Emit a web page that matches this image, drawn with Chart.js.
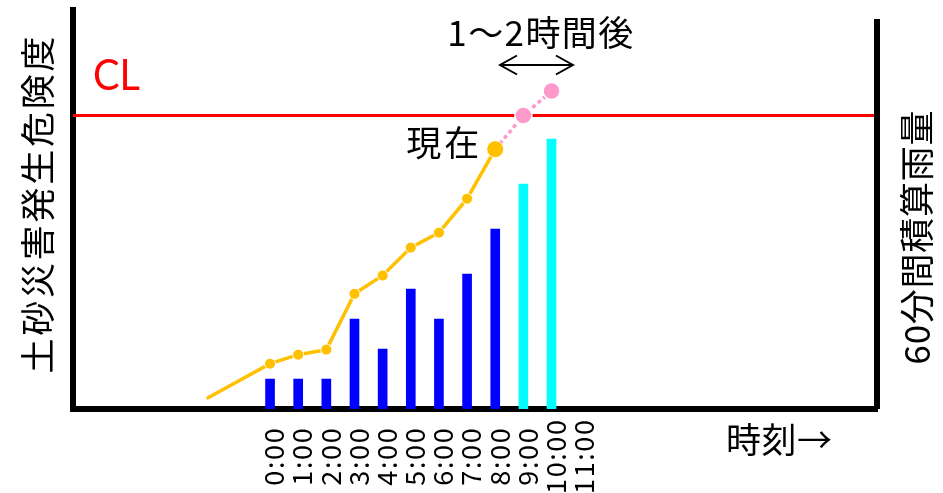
<!DOCTYPE html>
<html><head><meta charset="utf-8">
<script src="https://cdn.jsdelivr.net/npm/chart.js@4/dist/chart.umd.min.js"></script>
<style>html,body{margin:0;padding:0;background:#fff;overflow:hidden}#wrap{width:943px;height:493px}</style>
</head><body><div id="wrap"><canvas id="c" width="943" height="493"></canvas></div>
<script>
// ---- data ----
const timeLabels = ['0:00','1:00','2:00','3:00','4:00','5:00','6:00','7:00','8:00','9:00','10:00','11:00'];
const rainHours = [0,1,2,3,4,5,6,7,8,9,10];
const rainValues = [1,1,1,3,2,4,3,4.5,6,7.5,9];
const observedCount = 9; // first 9 bars observed, the rest forecast
const riskHours = [-2.25,0,1,2,3,4,5,6,7,8];
const riskValues = [0.35,1.51,1.81,1.98,3.84,4.45,5.38,5.88,7.01,8.66];
const forecastHours = [8,9,10];
const forecastValues = [8.66,9.78,10.6];
const clValue = 9.78;
const leftTitle = '土砂災害発生危険度';
const rightTitle = '60分間積算雨量';
const xTitle = '時刻→';
const nowLabel = '現在';
const leadLabel = '1〜2時間後';
const clLabel = 'CL';
const arrowFrom = 8.17, arrowTo = 10.76;

const X_MIN = -7, X_MAX = 21.58, Y_MAX = 13.3;
const JP = '"Noto Sans CJK JP", "Noto Sans", sans-serif';

// draw text centred at (cx, cy), character by character, with optional total length or extra gap
function spreadText(ctx, text, cx, cy, o) {
  const chars = Array.from(text);
  const ws = chars.map(c => ctx.measureText(c).width);
  const nat = ws.reduce((s, w) => s + w, 0);
  const n = chars.length;
  const gap = (o.target != null && n > 1) ? (o.target - nat) / (n - 1) : (o.gap || 0);
  const total = nat + gap * (n - 1);
  ctx.save();
  ctx.translate(cx, cy);
  if (o.rot) ctx.rotate(o.rot);
  ctx.textAlign = 'left';
  ctx.textBaseline = 'middle';
  let x = -total / 2;
  chars.forEach((c, i) => { ctx.fillText(c, x, 0); x += ws[i] + gap; });
  ctx.restore();
}
// draw text centred at (cx, cy), squeezed horizontally to a given width
function fitText(ctx, text, cx, cy, width) {
  const w = ctx.measureText(text).width;
  ctx.save();
  ctx.translate(cx, cy);
  ctx.scale(width / w, 1);
  ctx.textAlign = 'center';
  ctx.textBaseline = 'middle';
  ctx.fillText(text, 0, 0);
  ctx.restore();
}

const decor = {
  id: 'decor',
  afterDraw(chart) {
    const {ctx, chartArea: a, scales} = chart;
    const px = v => scales.x.getPixelForValue(v);
    const py = v => scales.y.getPixelForValue(v);
    const UP = -Math.PI / 2;
    ctx.save();
    // right axis line (starts a bit lower than the left one)
    ctx.fillStyle = '#000';
    ctx.fillRect(a.right - 3.5, a.top + 9, 6, a.bottom - a.top - 9);
    // bottom-left corner fill
    ctx.fillRect(a.left - 3, a.bottom, 6, 3);

    ctx.fillStyle = '#000';
    // tick labels (rotated, centred)
    ctx.font = '27px ' + JP;
    timeLabels.forEach((t, i) => {
      spreadText(ctx, t, px(i) + 4, a.bottom + 48, {gap: 1.6, rot: UP});
    });
    ctx.font = '35px ' + JP;
    spreadText(ctx, xTitle, a.right - 98.5, a.bottom + 31, {target: 106});
    spreadText(ctx, leftTitle, a.left - 35.5, 205, {target: 337, rot: UP});
    spreadText(ctx, rightTitle, a.right + 39.5, 237.5, {target: 254, rot: UP});
    const last = riskValues.length - 1;
    spreadText(ctx, nowLabel, px(riskHours[last]) - 52.5, py(riskValues[last]) - 6.5, {target: 73});
    spreadText(ctx, leadLabel, px(9.6), a.top + 23, {target: 186});
    // arrow
    const ay = a.top + 55, x1 = px(arrowFrom), x2 = px(arrowTo);
    ctx.strokeStyle = '#000';
    ctx.lineWidth = 2;
    ctx.beginPath();
    ctx.moveTo(x1, ay); ctx.lineTo(x2, ay);
    ctx.moveTo(x1 + 17, ay - 9.5); ctx.lineTo(x1, ay); ctx.lineTo(x1 + 17, ay + 9.5);
    ctx.moveTo(x2 - 17, ay - 9.5); ctx.lineTo(x2, ay); ctx.lineTo(x2 - 17, ay + 9.5);
    ctx.stroke();
    // CL
    ctx.fillStyle = '#FF0000';
    ctx.font = '43px Lato, "Open Sans", sans-serif';
    fitText(ctx, clLabel, a.left + 43.5, py(clValue) - 39.5, 47);
    ctx.restore();
  }
};

new Chart(document.getElementById('c'), {
  type: 'bar',
  data: {
    datasets: [
      {
        type: 'line', label: 'risk', yAxisID: 'y', order: 0,
        data: riskHours.map((x, i) => ({x, y: riskValues[i]})),
        borderColor: '#FFC000', borderWidth: 3.5,
        pointRadius: c => c.dataIndex === 0 ? 0 : (c.dataIndex === riskHours.length - 1 ? 8.5 : 5.5),
        pointBackgroundColor: '#FFC000', pointBorderColor: '#FFFFFF', pointBorderWidth: 1,
        tension: 0
      },
      {
        type: 'line', label: 'forecast', yAxisID: 'y', order: 1,
        data: forecastHours.map((x, i) => ({x, y: forecastValues[i]})),
        borderColor: '#FF99CC', borderWidth: 3.5, borderDash: [4, 3],
        pointRadius: c => c.dataIndex === 0 ? 0 : 8.5,
        pointBackgroundColor: '#FF99CC', pointBorderColor: '#FFFFFF', pointBorderWidth: 1.5,
        tension: 0
      },
      {
        type: 'line', label: 'CL', yAxisID: 'y', order: 2,
        data: [{x: X_MIN, y: clValue}, {x: X_MAX, y: clValue}],
        borderColor: '#FF0000', borderWidth: 3, pointRadius: 0
      },
      {
        type: 'bar', label: 'rain', yAxisID: 'y1', order: 3,
        data: rainHours.map((x, i) => ({x, y: rainValues[i]})),
        backgroundColor: c => c.dataIndex < observedCount ? '#0000FF' : '#00FFFF',
        barThickness: 9
      }
    ]
  },
  options: {
    responsive: false, animation: false, devicePixelRatio: 1,
    layout: {padding: {left: 73, right: 65.5, top: 6, bottom: 84}},
    plugins: {legend: {display: false}, tooltip: {enabled: false}},
    scales: {
      x: {type: 'linear', min: X_MIN, max: X_MAX, offset: false,
          grid: {display: false, drawTicks: false}, ticks: {display: false},
          border: {display: true, color: '#000', width: 6}},
      y: {position: 'left', min: 0, max: Y_MAX,
          grid: {display: false, drawTicks: false}, ticks: {display: false},
          border: {display: true, color: '#000', width: 6}},
      y1: {position: 'right', min: 0, max: Y_MAX,
          grid: {display: false, drawTicks: false}, ticks: {display: false},
          border: {display: false}}
    }
  },
  plugins: [decor]
});
</script></body></html>
